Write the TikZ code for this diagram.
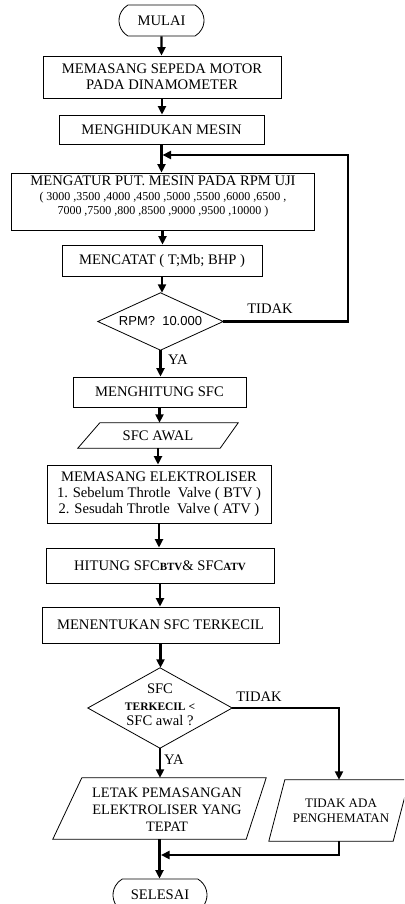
\documentclass[tikz,border=0pt]{standalone}
\usepackage{fontspec}
\setmainfont{Liberation Serif}
\newfontfamily\sansf{Liberation Sans}
\usetikzlibrary{arrows.meta,shapes.misc}
\begin{document}
\begin{tikzpicture}[x=1pt,y=-1pt,
  fs/.style={font=\fontsize{14.6}{16}\selectfont},
  box/.style={draw,line width=0.8pt,align=center,inner sep=0pt,fs},
  term/.style={draw,line width=0.8pt,rounded rectangle,rounded rectangle arc length=120,inner sep=0pt,fs},
  frame/.style={inner sep=0pt,align=center,fs},
  edge/.style={line width=0.8pt},
  arr/.style={line width=2.1pt,-{Triangle[length=8.5pt,width=8pt]}},
  lbl/.style={inner sep=0pt,fs}]
\useasboundingbox (0,0) rectangle (404,904);
\clip (0,0) rectangle (404,904);

% terminators and boxes
\node[term,minimum width=85pt,minimum height=31pt] (start) at (161.5,20.5) {MULAI};
\node[box,minimum width=238pt,minimum height=42pt] (b1) at (162,77) {MEMASANG SEPEDA MOTOR\\PADA DINAMOMETER};
\node[box,minimum width=205pt,minimum height=29pt] (b2) at (161.5,129.5) {MENGHIDUKAN MESIN};
\node[box,minimum width=303pt,minimum height=57pt] (b3) at (162.5,201.5) {};
\node[frame] (b3t) at (163,196.5) {MENGATUR PUT. MESIN PADA RPM UJI\\[-1.5pt]
  {\fontsize{12}{14.5}\selectfont ( 3000 ,3500 ,4000 ,4500 ,5000 ,5500 ,6000 ,6500 ,}\\[-1.5pt]
  {\fontsize{12}{14.5}\selectfont 7000 ,7500 ,800 ,8500 ,9000 ,9500 ,10000 )}};
\node[box,minimum width=200pt,minimum height=31pt] (b4) at (162,260.5) {MENCATAT ( T;Mb; BHP )};

% decision 1
\node[frame,minimum width=125pt,minimum height=57pt,font=\sansf\fontsize{13}{15}\selectfont] (d1) at (160.5,321.5) {RPM?\ \ 10.000};
\draw[edge] (d1.north) -- (d1.east) -- (d1.south) -- (d1.west) -- cycle;

\node[box,minimum width=173pt,minimum height=30pt] (b5) at (159.5,392) {MENGHITUNG SFC};

% parallelogram SFC AWAL
\node[frame,minimum width=160pt,minimum height=25pt] (p1) at (158,435.5) {SFC AWAL};
\draw[edge] ([xshift=22pt]p1.north west) -- (p1.north east) -- ([xshift=-18pt]p1.south east) -- (p1.south west) -- cycle;

\node[box,minimum width=224pt,minimum height=58pt] (b6) at (159,494) {MEMASANG ELEKTROLISER\\1. Sebelum Throtle\ \ Valve ( BTV )\\2. Sesudah Throtle\ \ Valve ( ATV )};
\node[box,minimum width=228pt,minimum height=35pt] (b7) at (160,565.5) {HITUNG SFC{\fontsize{11}{12}\selectfont\bfseries BTV}\& SFC{\fontsize{11}{12}\selectfont\bfseries ATV}};
\node[box,minimum width=237pt,minimum height=36pt] (b8) at (160.5,625) {MENENTUKAN SFC TERKECIL};

% decision 2
\node[frame,minimum width=144pt,minimum height=80pt] (d2) at (160,708) {};
\draw[edge] (d2.north) -- (d2.east) -- (d2.south) -- (d2.west) -- cycle;
\node[frame] (d2t) at (160,705) {SFC\\[1pt]{\fontsize{11.5}{16}\selectfont\bfseries TERKECIL <}\\[-1pt]SFC awal ?};

% output parallelograms
\node[frame,minimum width=213pt,minimum height=61pt] (p2) at (159.5,808.5) {};
\draw[edge] ([xshift=29pt]p2.north west) -- (p2.north east) -- ([xshift=-20pt]p2.south east) -- (p2.south west) -- cycle;
\node[frame,font=\fontsize{14.4}{17}\selectfont] (p2t) at (167,810) {LETAK PEMASANGAN\\ELEKTROLISER YANG\\TEPAT};

\node[frame,minimum width=140pt,minimum height=61pt] (p3) at (339,810.5) {};
\draw[edge] ([xshift=16pt]p3.north west) -- (p3.north east) -- ([xshift=-16pt]p3.south east) -- (p3.south west) -- cycle;
\node[frame,font=\fontsize{13}{15}\selectfont] (p3t) at (341,810.5) {TIDAK ADA\\PENGHEMATAN};

\node[term,minimum width=94pt,minimum height=32pt] (end) at (160,895) {SELESAI};

% labels
\node[lbl] (t1) at (270,309) {TIDAK};
\node[lbl,anchor=west] (y1) at (168,360) {YA};
\node[lbl] (t2) at (259,697) {TIDAK};
\node[lbl,anchor=west] (y2) at (164,760) {YA};

% connectors
\draw[arr] (start) -- (start |- b1.north);
\draw[arr] (b1) -- (b1.south |- b2.north);
\draw[arr] (b2.south) -- (b2.south |- b3.north);
\draw[arr] (b3.south) -- (b3.south |- b4.north);
\draw[arr] (b4.south) -- (b4.south |- d1.north);
\draw[arr] (d1.south) -- (d1.south |- b5.north);
\draw[arr] (b5.south) -- (b5.south |- p1.north);
\draw[arr] (p1.south) -- (p1.south |- b6.north);
\draw[arr] (b6.south) -- (b6.south |- b7.north);
\draw[arr] (b7.south) -- (b7.south |- b8.north);
\draw[arr] (b8.south) -- (b8.south |- d2.north);
\draw[arr] (d2.south) -- (d2.south |- p2.north);

\coordinate (lp) at (348,155);
\coordinate (j1) at (162.5,155);
\draw[arr] (d1.east) -| (lp) |- (j1);

\draw[arr] (d2.east) -| (p3.north);

\coordinate (j2) at (161,855);
\draw[arr] (p3.south) |- (j2);
\draw[arr] (p2.south) -- (p2.south |- end.north);
\end{tikzpicture}
\end{document}
